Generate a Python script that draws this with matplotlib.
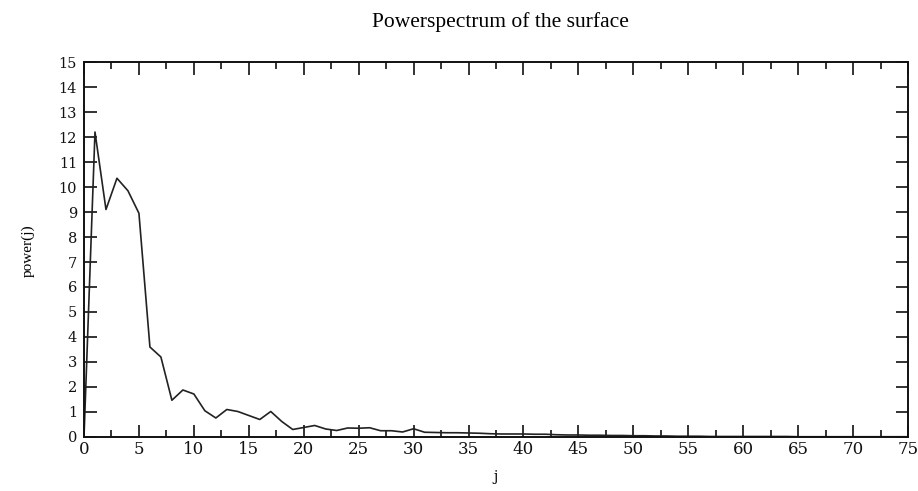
import matplotlib
matplotlib.use("Agg")
import matplotlib.pyplot as plt
from matplotlib.ticker import MultipleLocator

# power spectrum values, j = 0..75
j = list(range(76))
power = [0.0, 12.2, 9.1, 10.35, 9.85, 8.95, 3.6, 3.2, 1.47, 1.88, 1.72, 1.05, 0.76, 1.1, 1.02,
         0.86, 0.7, 1.02, 0.62, 0.3, 0.38, 0.46, 0.32, 0.26, 0.36, 0.35, 0.37, 0.25, 0.25, 0.2,
         0.33, 0.19, 0.18, 0.17, 0.17, 0.16, 0.15, 0.13, 0.12, 0.12, 0.12, 0.11, 0.11, 0.09, 0.08,
         0.08, 0.07, 0.07, 0.06, 0.06, 0.05, 0.05, 0.04, 0.04, 0.03, 0.03, 0.03, 0.02, 0.02, 0.02,
         0.02, 0.02, 0.02, 0.02, 0.02, 0.01, 0.01, 0.01, 0.01, 0.01, 0.01, 0.01, 0.01, 0.01, 0.01,
         0.01]

title = "Powerspectrum of the surface"
xlabel = "j"
ylabel = "power(j)"

fig = plt.figure(figsize=(9.18, 4.91), dpi=100)
ax = fig.add_axes([0.0915, 0.11, 0.8976, 0.7637])

ax.plot(j, power, color="#222222", lw=1.2)

ax.set_xlim(0, 75)
ax.set_ylim(0, 15)
ax.xaxis.set_major_locator(MultipleLocator(5))
ax.xaxis.set_minor_locator(MultipleLocator(2.5))
ax.yaxis.set_major_locator(MultipleLocator(1))

ax.tick_params(which="both", direction="in", top=True, right=True, width=1.2,
               labelfontfamily="DejaVu Serif", colors="#111111")
ax.tick_params(which="major", length=9)
ax.tick_params(which="minor", length=5)
ax.tick_params(axis="x", labelsize=12, pad=3)
ax.tick_params(axis="y", labelsize=10.5, pad=5)

for s in ax.spines.values():
    s.set_linewidth(1.4)
    s.set_color("#111111")

fig.text(0.545, 0.955, title, ha="center", va="center", family="Liberation Serif", fontsize=15.5)
fig.text(0.54, 0.028, xlabel, ha="center", va="center", family="DejaVu Serif", fontsize=10)
fig.text(0.031, 0.49, ylabel, ha="center", va="center", rotation=90,
         family="Liberation Serif", fontsize=11)

fig.savefig("out.png", dpi=100, facecolor="white")
